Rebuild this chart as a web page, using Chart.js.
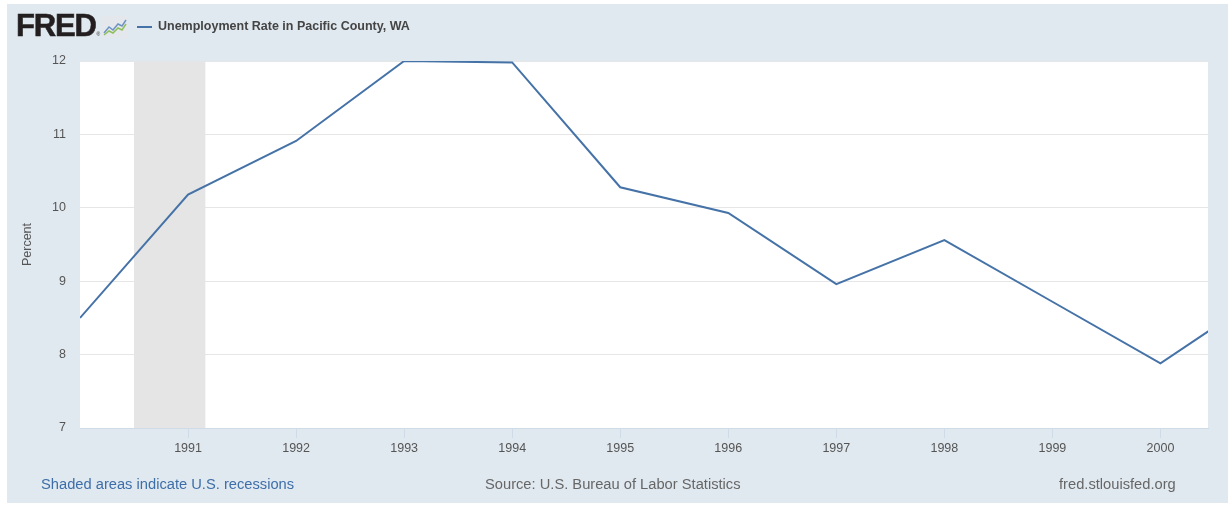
<!DOCTYPE html>
<html>
<head>
<meta charset="utf-8">
<script src="https://cdn.jsdelivr.net/npm/chart.js@4/dist/chart.umd.min.js"></script>
<style>
  html, body { margin: 0; padding: 0; background: #fff; }
  #wrap { position: relative; width: 1232px; height: 505px; font-family: "Liberation Sans", Arial, sans-serif; }
  #chart { position: absolute; left: 0; top: 0; }
  .txt { position: absolute; white-space: nowrap; }
  #fred { left: 16px; top: 8px; font-size: 31px; font-weight: bold; color: #231f20; letter-spacing: -1.2px; -webkit-text-stroke: 0.6px #231f20; }
  #fred sup { font-size: 5px; font-weight: normal; letter-spacing: 0; vertical-align: 0; margin-left: 1px; -webkit-text-stroke: 0; }
  #icon { position: absolute; left: 102px; top: 16px; }
  #legendLine { position: absolute; left: 137px; top: 26px; width: 15px; height: 2px; background: #4572a7; }
  #legendText { left: 158px; top: 19px; font-size: 12.5px; font-weight: bold; color: #444; }
  #note { left: 41px; top: 476px; font-size: 14.7px; color: #3d6ea8; }
  #source { left: 485px; top: 476px; font-size: 14.7px; color: #666; }
  #site { left: 1059px; top: 476px; font-size: 14.7px; color: #666; }
</style>
</head>
<body>
<div id="wrap">
  <canvas id="chart" width="1232" height="505"></canvas>
  <div class="txt" id="fred">FRED<sup>®</sup></div>
  <svg id="icon" width="26" height="22" viewBox="0 0 26 22">
    <rect x="0" y="0" width="26" height="22" rx="2" fill="#e4e8ec"/>
    <polyline points="2,17 7,11 11,14 16,8 20,10 24,4" fill="none" stroke="#6d93c4" stroke-width="1.5"/>
    <polyline points="2,19 7,15 11,17 16,12 20,14 24,8" fill="none" stroke="#8fbf5a" stroke-width="1.5"/>
  </svg>
  <div id="legendLine"></div>
  <div class="txt" id="legendText">Unemployment Rate in Pacific County, WA</div>
  <div class="txt" id="note">Shaded areas indicate U.S. recessions</div>
  <div class="txt" id="source">Source: U.S. Bureau of Labor Statistics</div>
  <div class="txt" id="site">fred.stlouisfed.org</div>
</div>
<script>
// annual values, percent
const years = [1990, 1991, 1992, 1993, 1994, 1995, 1996, 1997, 1998, 1999, 2000, 2001];
const rates = [8.5, 10.18, 10.91, 12.0, 11.98, 10.28, 9.93, 8.96, 9.56, 8.72, 7.88, 8.87];
const tickYears = [1991, 1992, 1993, 1994, 1995, 1996, 1997, 1998, 1999, 2000];
const yTicks = [7, 8, 9, 10, 11, 12];
// recession July 1990 - March 1991, as decimal years
const recessionStart = 1990.5;
const recessionEnd = 1991.16;
const xMin = 1990;
const xMax = 2000.44;

const panelBg = {
    id: 'panelBg',
    beforeDraw(chart) {
        const ctx = chart.ctx;
        const a = chart.chartArea;
        ctx.save();
        ctx.fillStyle = '#fff';
        ctx.fillRect(0, 0, chart.width, chart.height);
        ctx.fillStyle = '#e1e9f0';
        ctx.fillRect(7, 4, 1221, 499);
        ctx.fillStyle = '#fff';
        ctx.fillRect(a.left, a.top, a.right - a.left, a.bottom - a.top);
        ctx.restore();
    }
};

const recession = {
    id: 'recession',
    beforeDatasetsDraw(chart) {
        const ctx = chart.ctx;
        const a = chart.chartArea;
        const x = chart.scales.x;
        const x0 = x.getPixelForValue(recessionStart);
        const x1 = x.getPixelForValue(recessionEnd);
        ctx.save();
        ctx.fillStyle = '#e5e5e5';
        ctx.fillRect(x0, a.top, x1 - x0, a.bottom - a.top);
        ctx.restore();
    }
};

new Chart(document.getElementById('chart').getContext('2d'), {
    type: 'line',
    data: {
        datasets: [{
            label: 'Unemployment Rate in Pacific County, WA',
            data: years.map((y, i) => ({ x: y, y: rates[i] })),
            borderColor: '#4572a7',
            borderWidth: 2,
            pointRadius: 0,
            tension: 0,
            fill: false
        }]
    },
    options: {
        responsive: false,
        animation: false,
        layout: { padding: { left: 0, top: 61, right: 24, bottom: 0 } },
        plugins: { legend: { display: false }, tooltip: { enabled: false } },
        scales: {
            x: {
                type: 'linear',
                min: xMin,
                max: xMax,
                afterBuildTicks: s => { s.ticks = tickYears.map(v => ({ value: v })); },
                afterFit: s => { s.height = 77; },
                ticks: {
                    autoSkip: false,
                    maxRotation: 0,
                    padding: 3,
                    color: '#555',
                    font: { family: 'Liberation Sans', size: 12.5 },
                    callback: v => String(v)
                },
                grid: { drawOnChartArea: false, tickLength: 10, color: '#cfdbe7' },
                border: { display: true, color: '#cfdbe7' }
            },
            y: {
                min: 7,
                max: 12,
                afterBuildTicks: s => { s.ticks = yTicks.map(v => ({ value: v })); },
                afterFit: s => { s.width = 80; },
                ticks: {
                    padding: 14,
                    color: '#555',
                    font: { family: 'Liberation Sans', size: 12.5 }
                },
                grid: { color: '#e6e6e6', drawTicks: false },
                border: { display: false },
                title: {
                    display: true,
                    text: 'Percent',
                    color: '#555',
                    font: { family: 'Liberation Sans', size: 12.5 },
                    padding: { top: 20, bottom: 0 }
                }
            }
        }
    },
    plugins: [panelBg, recession]
});
</script>
</body>
</html>
